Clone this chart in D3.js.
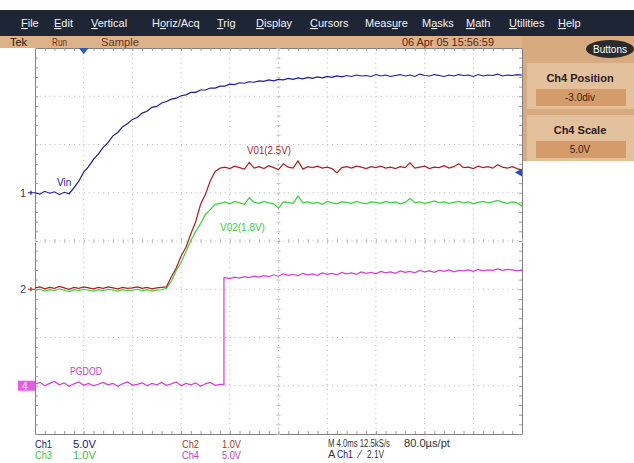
<!DOCTYPE html>
<html lang="en">
<head>
<meta charset="UTF-8">
<title>Scope capture</title>
<script src="https://d3js.org/d3.v7.min.js"></script>
<style>
  body { margin: 0; background: #fff; }
  svg { display: block; font-family: "Liberation Sans", Arial, sans-serif; }
</style>
</head>
<body>
<svg id="scope" width="634" height="463"></svg>
<script>
// sample times, in horizontal divisions (0..10), 0.1 div apart
var time = d3.range(101).map(function(i) { return i / 10; });

// traces, in vertical divisions from screen centre
var vin = [
  1.00, 0.97, 1.03, 0.99, 1.02, 0.96, 1.01, 0.98,
  1.10, 1.24, 1.43, 1.54, 1.69, 1.80, 1.94, 2.04,
  2.18, 2.25, 2.37, 2.43, 2.52, 2.56, 2.65, 2.69,
  2.77, 2.79, 2.86, 2.89, 2.94, 2.96, 3.01, 3.03,
  3.08, 3.08, 3.13, 3.13, 3.17, 3.17, 3.21, 3.21,
  3.25, 3.24, 3.28, 3.27, 3.30, 3.29, 3.32, 3.31,
  3.34, 3.32, 3.35, 3.34, 3.37, 3.35, 3.38, 3.36,
  3.39, 3.37, 3.40, 3.38, 3.41, 3.39, 3.42, 3.40,
  3.43, 3.41, 3.44, 3.42, 3.43, 3.41, 3.45, 3.42,
  3.44, 3.41, 3.43, 3.45, 3.42, 3.44, 3.41, 3.46,
  3.43, 3.42, 3.45, 3.43, 3.41, 3.44, 3.42, 3.45,
  3.43, 3.44, 3.41, 3.45, 3.42, 3.44, 3.43, 3.46,
  3.42, 3.44, 3.43, 3.45, 3.44
];
var vo1 = [
  -0.97, -0.95, -0.99, -0.96, -0.98, -0.94, -0.97, -1.00,
  -0.96, -0.98, -0.95, -0.97, -0.99, -0.96, -0.98, -0.95,
  -0.97, -0.99, -0.96, -0.98, -0.97, -0.95, -0.98, -0.96,
  -0.99, -0.97, -0.96, -0.95, -0.74, -0.56, -0.31, -0.13,
   0.15,  0.40,  0.76,  0.97,  1.25,  1.44,  1.51,  1.53,
   1.50,  1.55,  1.52,  1.49,  1.63,  1.51,  1.54,  1.50,
   1.56,  1.52,  1.48,  1.60,  1.53,  1.51,  1.66,  1.49,
   1.54,  1.52,  1.55,  1.51,  1.53,  1.50,  1.41,  1.52,
   1.54,  1.51,  1.55,  1.53,  1.50,  1.54,  1.52,  1.55,
   1.51,  1.53,  1.50,  1.54,  1.52,  1.62,  1.51,  1.53,
   1.55,  1.50,  1.53,  1.52,  1.56,  1.51,  1.54,  1.60,
   1.52,  1.53,  1.50,  1.55,  1.52,  1.54,  1.51,  1.58,
   1.53,  1.51,  1.54,  1.50,  1.47
];
var vo2 = [
  -1.02, -1.00, -1.04, -1.01, -1.03, -0.99, -1.02, -1.05,
  -1.01, -1.03, -1.00, -1.02, -1.04, -1.01, -1.03, -1.00,
  -1.02, -1.04, -1.01, -1.03, -1.02, -1.00, -1.03, -1.01,
  -1.04, -1.02, -1.01, -0.98, -0.83, -0.61, -0.44, -0.22,
   0.01,  0.20,  0.36,  0.55,  0.65,  0.76,  0.78,  0.81,
   0.77,  0.82,  0.79,  0.76,  0.90,  0.80,  0.78,  0.82,
   0.79,  0.77,  0.68,  0.81,  0.80,  0.78,  0.93,  0.79,
   0.81,  0.78,  0.80,  0.76,  0.82,  0.79,  0.77,  0.81,
   0.80,  0.78,  0.82,  0.79,  0.77,  0.81,  0.80,  0.78,
   0.82,  0.79,  0.81,  0.77,  0.80,  0.88,  0.79,  0.81,
   0.78,  0.80,  0.83,  0.79,  0.81,  0.78,  0.80,  0.82,
   0.79,  0.81,  0.77,  0.80,  0.82,  0.79,  0.81,  0.84,
   0.80,  0.78,  0.81,  0.79,  0.72
];
var pgood = [
  -2.97, -2.93, -3.00, -2.95, -2.91, -2.98, -2.94, -3.01,
  -2.96, -2.92, -2.99, -2.95, -3.00, -2.97, -2.93, -2.98,
  -2.95, -3.01, -2.96, -2.92, -2.99, -2.97, -2.94, -3.00,
  -2.95, -2.98, -2.93, -2.99, -2.96, -2.92, -3.00, -2.95,
  -2.98, -2.94, -3.01, -2.96, -2.93, -2.99, -2.97, -0.76,
  -0.78, -0.75, -0.77, -0.74, -0.76, -0.73, -0.75, -0.72,
  -0.74, -0.70, -0.73, -0.68, -0.71, -0.69, -0.72, -0.67,
  -0.70, -0.68, -0.71, -0.66, -0.69, -0.67, -0.70, -0.65,
  -0.68, -0.66, -0.69, -0.64, -0.67, -0.65, -0.68, -0.63,
  -0.66, -0.64, -0.67, -0.62, -0.65, -0.63, -0.66, -0.61,
  -0.64, -0.62, -0.65, -0.61, -0.63, -0.60, -0.64, -0.61,
  -0.62, -0.60, -0.63, -0.59, -0.62, -0.60, -0.61, -0.58,
  -0.61, -0.59, -0.60, -0.62, -0.60
];
var pgoodEdge = 3.88;     // time of the PGOOD step
var trigLevel = 1.42;     // ch1 trigger level (2.1V at 5V/div, ground at +1 div)
var trigTime = 1.0;

var menuItems = ["File", "Edit", "Vertical", "Horiz/Acq", "Trig", "Display", "Cursors", "Measure", "Masks", "Math", "Utilities", "Help"];
var menuKeys = [0, 0, 0, 1, 0, 0, 0, 4, 1, 0, 0, 0];
var menuX = [21, 54, 91, 152, 217, 256, 310, 365, 422, 466, 509, 558];

var chColor = { 1: "#1c1c9c", 2: "#b01e1e", 3: "#3ad23a", 4: "#d23fd2" };

var svg = d3.select("#scope");

var x = d3.scaleLinear().domain([0, 10]).range([35, 522]);
var y = d3.scaleLinear().domain([-4, 4]).range([434, 48]);

// text helper; o.w squeezes the text horizontally to that width (scope font is narrow)
function txt(px, py, s, o) {
  o = o || {};
  var t = svg.append("text").attr("x", px).attr("y", py)
    .attr("font-size", o.size || 11)
    .attr("fill", o.fill || "#222")
    .text(s);
  if (o.anchor) t.attr("text-anchor", o.anchor);
  if (o.weight) t.attr("font-weight", o.weight);
  if (o.w) {
    var k = o.w / t.node().getComputedTextLength();
    t.attr("x", 0).attr("y", 0)
      .attr("transform", "translate(" + px + "," + py + ") scale(" + k + ",1)");
  }
  return t;
}

// --- menu bar
svg.append("rect").attr("x", 0).attr("y", 10).attr("width", 634).attr("height", 26).attr("fill", "#1e2636");
menuItems.forEach(function(m, i) {
  var t = svg.append("text").attr("x", menuX[i]).attr("y", 27)
    .attr("font-size", 11).attr("fill", "#f2f2f2");
  var k = menuKeys[i];
  t.append("tspan").text(m.slice(0, k));
  t.append("tspan").attr("text-decoration", "underline").text(m.charAt(k));
  t.append("tspan").text(m.slice(k + 1));
});

// --- status strip and right panel
svg.append("rect").attr("x", 0).attr("y", 36).attr("width", 634).attr("height", 12).attr("fill", "#dcb28a");
svg.append("rect").attr("x", 522).attr("y", 36).attr("width", 112).attr("height", 125).attr("fill", "#d8aa80");
txt(10, 46, "Tek", { fill: "#2a1a10" });
txt(52, 46, "Run", { fill: "#6a3418", w: 15 });
txt(101, 46, "Sample", { fill: "#6a3418", w: 38 });
txt(402, 46, "06 Apr 05 15:56:59", { fill: "#5a2410", w: 92 });

svg.append("ellipse").attr("cx", 610).attr("cy", 49).attr("rx", 24).attr("ry", 9).attr("fill", "#2b2b2b");
txt(610, 53, "Buttons", { fill: "#fff", size: 10, anchor: "middle" });

[["Ch4 Position", "-3.0div", 63], ["Ch4 Scale", "5.0V", 115]].forEach(function(b) {
  svg.append("rect").attr("x", 527).attr("y", b[2]).attr("width", 107).attr("height", 46).attr("fill", "#e4c19d");
  svg.append("rect").attr("x", 536).attr("y", b[2] + 26).attr("width", 90).attr("height", 17).attr("fill", "#d49c6a");
  txt(580, b[2] + 19, b[0], { size: 11, weight: "bold", anchor: "middle", fill: "#2a2020" });
  txt(580, b[2] + 38, b[1], { size: 10, anchor: "middle", fill: "#3a2010" });
});

// --- graticule
var grid = svg.append("g");
d3.range(1, 10).forEach(function(d) {
  grid.append("line").attr("x1", x(d)).attr("x2", x(d)).attr("y1", y(4)).attr("y2", y(-4));
});
d3.range(-3, 4).forEach(function(d) {
  grid.append("line").attr("x1", x(0)).attr("x2", x(10)).attr("y1", y(d)).attr("y2", y(d));
});
grid.selectAll("line").attr("stroke", "#b4b4b4").attr("stroke-dasharray", "1,3.87");

var minorX = d3.range(0, 10.01, 0.2), minorY = d3.range(-4, 4.01, 0.2);
function edge(axis, tr) {
  var g = svg.append("g").attr("transform", tr).call(axis);
  g.selectAll("text").remove();
  g.select(".domain").attr("stroke", "#808080");
  g.selectAll(".tick line").attr("stroke", "#9a9a9a");
}
edge(d3.axisBottom(x).tickValues(minorX).tickSize(-3).tickSizeOuter(0), "translate(0," + y(-4) + ")");
edge(d3.axisTop(x).tickValues(minorX).tickSize(-3).tickSizeOuter(0), "translate(0," + y(4) + ")");
edge(d3.axisLeft(y).tickValues(minorY).tickSize(-3).tickSizeOuter(0), "translate(" + x(0) + ",0)");
edge(d3.axisRight(y).tickValues(minorY).tickSize(-3).tickSizeOuter(0), "translate(" + x(10) + ",0)");

// centre-line ticks
var cx = svg.append("g").attr("transform", "translate(0," + y(0) + ")")
  .call(d3.axisBottom(x).tickValues(minorX).tickSize(2).tickSizeOuter(0));
cx.selectAll("text").remove(); cx.select(".domain").remove();
cx.selectAll(".tick line").attr("stroke", "#bcbcbc").attr("y1", -2);
var cy = svg.append("g").attr("transform", "translate(" + x(5) + ",0)")
  .call(d3.axisLeft(y).tickValues(minorY).tickSize(2).tickSizeOuter(0));
cy.selectAll("text").remove(); cy.select(".domain").remove();
cy.selectAll(".tick line").attr("stroke", "#bcbcbc").attr("x1", 2);

// --- traces
var line = d3.line().x(function(d) { return x(d.t); }).y(function(d) { return y(d.v); });
function pts(vals) { return time.map(function(t, i) { return { t: t, v: vals[i] }; }); }

var pg = pts(pgood);
var cut = d3.bisector(function(d) { return d.t; }).left(pg, pgoodEdge);
pg.splice(cut, 0, { t: pgoodEdge, v: pgood[cut - 1] }, { t: pgoodEdge, v: pgood[cut] });

[[pg, 4], [pts(vo2), 3], [pts(vo1), 2], [pts(vin), 1]].forEach(function(s) {
  svg.append("path").datum(s[0]).attr("d", line)
    .attr("fill", "none").attr("stroke", chColor[s[1]]).attr("stroke-width", 1.2);
});

// --- labels on traces
txt(57, 186, "Vin", { fill: chColor[1], size: 10 });
txt(247, 154, "V01(2.5V)", { fill: chColor[2], size: 10, w: 44 });
txt(220, 231, "V02(1.8V)", { fill: "#44c844", size: 10, w: 45 });
txt(70, 375, "PGDOD", { fill: "#c83cc8", size: 10, w: 32 });

// --- channel ground markers
function marker(level, label, col, boxed) {
  var py = y(level);
  if (boxed) {
    svg.append("rect").attr("x", 18).attr("y", py - 5).attr("width", 17).attr("height", 10).attr("fill", col);
    txt(22, py + 4, label, { fill: "#fff", size: 10 });
  } else {
    txt(20, py + 4, label, { fill: "#444", size: 11 });
  }
  svg.append("path").attr("d", "M28," + py + "H35M31," + (py - 2) + "V" + (py + 2))
    .attr("stroke", col).attr("stroke-width", 1.2);
}
marker(1, "1", chColor[1], false);
marker(-1, "2", chColor[2], false);
marker(-3, "4", "#e060e0", true);

// trigger position and level
var tx = x(trigTime);
svg.append("path").attr("d", "M" + (tx - 5) + "," + y(4) + "H" + (tx + 5) + "L" + tx + "," + (y(4) + 6) + "Z").attr("fill", "#2a5cc8");
var ty = y(trigLevel);
svg.append("path").attr("d", "M" + x(10) + "," + (ty - 4) + "V" + (ty + 4) + "L" + (x(10) - 7) + "," + ty + "Z").attr("fill", "#2a4cc8");

// --- readout
txt(35, 448, "Ch1", { fill: "#20207a", size: 11, w: 17 });
txt(73, 448, "5.0V", { fill: "#20207a", size: 11, w: 23 });
txt(35, 459, "Ch3", { fill: "#44c044", size: 11, w: 17 });
txt(73, 459, "1.0V", { fill: "#44c044", size: 11, w: 23 });
txt(182, 448, "Ch2", { fill: "#a03a24", size: 11, w: 17 });
txt(222, 448, "1.0V", { fill: "#a03a24", size: 11, w: 19 });
txt(182, 459, "Ch4", { fill: "#c040c0", size: 11, w: 17 });
txt(222, 459, "5.0V", { fill: "#c040c0", size: 11, w: 19 });
txt(328, 447, "M 4.0ms 12.5kS/s", { fill: "#333", size: 11, w: 62 });
txt(404, 447, "80.0\u00b5s/pt", { fill: "#333", size: 11, w: 46 });
txt(328, 458, "A", { fill: "#333", size: 11 });
txt(337, 458, "Ch1", { fill: "#20207a", size: 11, w: 16 });
txt(359, 458, "\u2044", { fill: "#333", size: 11 });
txt(367, 458, "2.1V", { fill: "#333", size: 11, w: 17 });
</script>
</body>
</html>
